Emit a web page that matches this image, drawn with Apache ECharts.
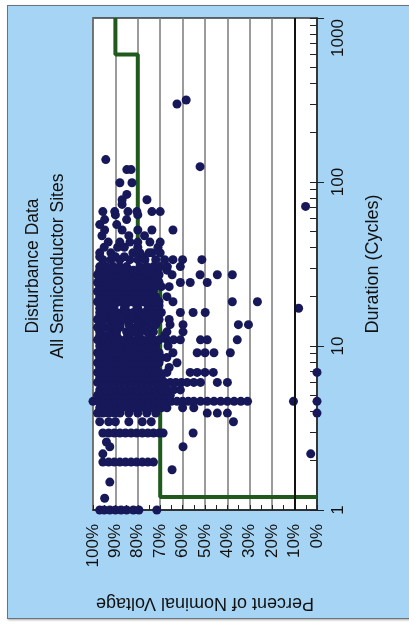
<!DOCTYPE html>
<html>
<head>
<meta charset="utf-8">
<script src="https://cdn.jsdelivr.net/npm/echarts@6/dist/echarts.min.js"></script>
<style>
  html, body { margin: 0; padding: 0; background: #ffffff; }
  #wrap { position: relative; width: 409px; height: 626px; overflow: hidden; }
  #panel {
    position: absolute; left: 7px; top: 5px; width: 420px; height: 612px;
    background: #a6d4f4; border: 1.5px solid #6b747c;
    box-shadow: 1px 1px 2px rgba(0,0,0,.35);
  }
  #chart { position: absolute; left: 0; top: 0; width: 409px; height: 626px; }
</style>
</head>
<body>
<div id="wrap">
  <div id="panel"></div>
  <div id="chart"></div>
</div>
<script>
  // rows of disturbances: [duration in cycles, [percent of nominal voltage, ...]]
  const eventRows = [
    [1.0, [97, 95, 92.5, 90, 87.5, 85, 82, 79.5, 71.5]],
    [1.18, [94.8]],
    [1.48, [92.5]],
    [1.76, [64.7]],
    [1.96, [95.6, 93, 90.5, 88, 85.5, 83, 80.5, 78, 75.5, 73]],
    [2.2, [95.6, 2.8]],
    [2.43, [92.5, 59.8]],
    [2.6, [94]],
    [2.95, [95.6, 93, 90.5, 88, 85.5, 83, 80.5, 78, 75.5, 73, 70.5, 68.7, 55.3]],
    [3.45, [97, 93, 90, 84, 78, 74, 37.3]],
    [3.9, [98, 95.5, 93, 90.5, 88, 84, 80, 76, 72, 49, 44.5, 40, 0]],
    [4.2, [97, 94.5, 92, 89.5, 87, 84.5, 82, 79.5, 77, 74.5, 72, 69.5, 67, 60, 55]],
    [4.6, [100, 97.5, 95, 92.5, 90, 87.5, 85, 82.5, 80, 77.5, 75, 72.5, 70, 67.5, 65, 62.5, 60, 57.5, 55, 52, 49, 46, 43, 40, 37, 34, 31, 10.5, 0]],
    [5.0, [98, 95.5, 93, 90.5, 88, 85.5, 83, 80.5, 78, 75.5, 73, 70.5, 68, 65.5]],
    [5.4, [97, 94.5, 92, 89.5, 87, 84.5, 82, 79.5, 77, 74.5, 72, 69.5, 67, 64, 61]],
    [6.0, [98, 95.5, 93, 90.5, 88, 85.5, 83, 80.5, 78, 75.5, 73, 70.5, 68, 65.5, 63, 60.5, 58, 55, 52, 44.5, 40]],
    [6.4, [97, 94.5, 92, 89.5, 87, 84.5, 82, 79.5, 77, 74.5, 72, 69.5]],
    [6.9, [98, 95.5, 93, 90.5, 88, 85.5, 83, 80.5, 78, 75.5, 73, 70.5, 67, 56.6, 53.5, 50, 46.3, 0]],
    [7.4, [97, 94.5, 92, 89.5, 87, 84.5, 82, 79.5, 77, 74.5, 72, 66]],
    [7.9, [98, 95.5, 93, 90.5, 88, 85.5, 83, 80.5, 78, 75.5, 73, 70.5, 62.5]],
    [8.5, [97, 94.5, 92, 89.5, 87, 84.5, 82, 79.5, 77, 74.5, 72, 69.5, 67]],
    [9.1, [98, 95.5, 93, 90.5, 88, 85.5, 83, 80.5, 78, 75.5, 73, 70.5, 64.3, 53.5, 50, 46, 38.7]],
    [10, [97, 94.5, 92, 89.5, 87, 84.5, 82, 79.5, 77, 74.5, 72, 66.5]],
    [10.9, [98, 95.5, 93, 90.5, 88, 85.5, 83, 80.5, 78, 75.5, 73, 70.5, 67, 64, 61, 52, 49, 35.6]],
    [11.6, [97, 94.5, 92, 89.5, 84.5, 79.5, 74.5, 68]],
    [12.2, [97, 92, 89.5, 85, 82, 79, 76, 73, 67, 59.8]],
    [13, [98, 95.5, 93, 90.5, 88, 83, 80.5, 78, 75.5, 73]],
    [13.5, [96, 92, 88, 84, 80, 76, 72, 65.6, 59.8, 35.1, 30.6]],
    [14.5, [98, 95.5, 93, 90.5, 88, 85.5, 83, 80.5, 78, 75.5, 73, 70.5, 66]],
    [15.2, [97, 94.5, 92, 87, 82, 77, 72]],
    [16, [97, 94.5, 92, 89.5, 87, 84.5, 82, 79.5, 77, 74.5, 72, 69.5, 61, 55.3, 49.9]],
    [17, [97, 92, 86, 80, 74, 8.2]],
    [17.6, [95.5, 90.5, 85.5, 80.5, 75.5, 70.5]],
    [18.6, [98, 95.5, 93, 90.5, 88, 85.5, 83, 80.5, 78, 75.5, 73, 70.5, 64.3, 37.8, 26.6]],
    [20, [97, 94.5, 92, 89.5, 87, 84.5, 82, 79.5, 77, 74.5, 72, 67]],
    [21.5, [98, 95.5, 93, 90.5, 88, 85.5, 83, 80.5, 78, 75.5, 73]],
    [23, [97, 94.5, 92, 89.5, 87, 84.5, 82, 79.5, 77, 74.5, 72, 69.5, 66]],
    [24.4, [98, 95.5, 93, 90.5, 88, 85.5, 83, 80.5, 78, 75.5, 73, 70.5, 61, 56.6, 49]],
    [25.8, [97, 94.5, 92, 89.5, 87, 84.5, 82, 79.5, 77, 74.5, 72]],
    [27.2, [98, 95.5, 93, 90.5, 88, 85.5, 83, 80.5, 78, 75.5, 73, 70.5, 64.7, 52.2, 44.5, 37.8]],
    [29, [97, 94.5, 92, 89.5, 87, 84.5, 82, 79.5, 77, 74.5, 72, 67]],
    [30.5, [97, 94, 91, 88, 85, 79, 76, 73, 70, 66.8, 61]],
    [33.6, [95.6, 92, 88, 83.5, 80, 76.8, 72, 68, 64.3, 60, 51.4]],
    [35, [97, 90, 86, 78]],
    [37, [97, 92, 82.2, 79, 75, 73.7, 70]],
    [40, [95, 89, 86, 80, 71]],
    [43, [93.2, 88, 83.5, 80, 74.6, 70]],
    [47, [96, 84, 77]],
    [51, [94.8, 87, 80, 73.7, 64.3]],
    [55, [97, 89.4]],
    [59, [94.8, 85]],
    [63, [90, 80]],
    [66, [95.6, 90.3, 84.4, 80.4, 73.7, 70]],
    [71, [5.1]],
    [73, [87]],
    [78, [87, 75.9]],
    [84, [84.9]],
    [99, [88, 82.6]],
    [119, [84.9, 83]],
    [124, [52.2]],
    [137, [94.3]],
    [299, [62.5]],
    [316, [58.4]]
  ];

  // ride-through curve: [percent, cycles]
  const limitCurve = [[0, 1.2], [70, 1.2], [70, 30], [80, 30], [80, 600], [90, 600], [90, 1000]];

  const cycleLabels = [1, 10, 100, 1000];
  const cycleTicks = [1, 2, 3, 4, 5, 6, 7, 8, 9, 10, 20, 30, 40, 50, 60, 70, 80, 90,
    100, 200, 300, 400, 500, 600, 700, 800, 900, 1000];

  const points = [];
  eventRows.forEach(([cycles, pcts]) => pcts.forEach((p) => points.push([p, cycles])));

  const FONT = 'Liberation Sans, Arial, Helvetica, sans-serif';
  const chart = echarts.init(document.getElementById('chart'), null, { renderer: 'canvas' });

  chart.setOption({
    backgroundColor: 'transparent',
    animation: false,
    grid: {
      left: 93, right: 92, top: 18, bottom: 116,
      show: true, backgroundColor: '#ffffff', borderColor: '#3a3a3a', borderWidth: 1.5
    },
    graphic: [{
      type: 'text',
      x: 46, y: 266,
      rotation: Math.PI / 2,
      z: 10,
      style: {
        text: 'Disturbance Data\nAll Semiconductor Sites',
        fontFamily: FONT, fontSize: 17.5, lineHeight: 25,
        fill: '#111', align: 'center', verticalAlign: 'middle'
      }
    }],
    xAxis: {
      type: 'value',
      min: 0, max: 100, interval: 10,
      inverse: true,
      position: 'bottom',
      name: 'Percent of Nominal Voltage',
      nameLocation: 'middle',
      nameGap: 84,
      nameRotate: 180,
      nameTextStyle: { color: '#111', fontSize: 18, fontFamily: FONT },
      axisLine: { lineStyle: { color: '#222', width: 1.5 } },
      axisTick: { show: true, inside: true, length: 5, lineStyle: { color: '#222' } },
      minorTick: { show: true, splitNumber: 2, length: 5, lineStyle: { color: '#222' } },
      axisLabel: {
        rotate: 90, margin: 14, color: '#111', fontSize: 17, fontFamily: FONT,
        formatter: '{value}%'
      },
      splitLine: { show: true, lineStyle: { color: '#7a7a7a', width: 1.5 } }
    },
    yAxis: [{
      type: 'log',
      logBase: 10,
      min: 1, max: 1000,
      position: 'right',
      name: 'Duration (Cycles)',
      nameLocation: 'middle',
      nameGap: 47,
      nameRotate: 90,
      nameTextStyle: { color: '#111', fontSize: 18, fontFamily: FONT },
      axisLine: { show: true, lineStyle: { color: '#222', width: 1.5 } },
      axisTick: { show: true, inside: true, length: 7, customValues: cycleTicks, lineStyle: { color: '#222' } },
      axisLabel: {
        rotate: 90, margin: 13, color: '#111', fontSize: 17, fontFamily: FONT,
        customValues: cycleLabels,
        formatter: (v) => {
          const n = Math.round(v);
          return n === 1000 ? '{top|1000}' : String(n);
        },
        rich: { top: { fontSize: 17, fontFamily: FONT, color: '#111', padding: [0, 40, 0, 0] } }
      },
      splitLine: { show: false }
    }, {
      type: 'log',
      logBase: 10,
      min: 1, max: 1000,
      position: 'right',
      axisLine: { show: false },
      axisTick: { show: true, inside: false, length: 7, customValues: cycleLabels, lineStyle: { color: '#222' } },
      axisLabel: { show: false },
      splitLine: { show: false }
    }],
    series: [{
      name: 'Limit',
      type: 'line',
      data: limitCurve,
      yAxisIndex: 0,
      showSymbol: false,
      z: 2,
      lineStyle: { color: '#1f5a1c', width: 4 },
      markLine: {
        silent: true,
        symbol: ['none', 'none'],
        label: { show: false },
        lineStyle: { color: '#111', width: 2, type: 'solid' },
        data: [{ xAxis: 10 }]
      }
    }, {
      name: 'Disturbances',
      type: 'scatter',
      data: points,
      yAxisIndex: 0,
      symbolSize: 9,
      clip: false,
      z: 3,
      itemStyle: { color: '#17185a', opacity: 1 }
    }]
  });
</script>
</body>
</html>
